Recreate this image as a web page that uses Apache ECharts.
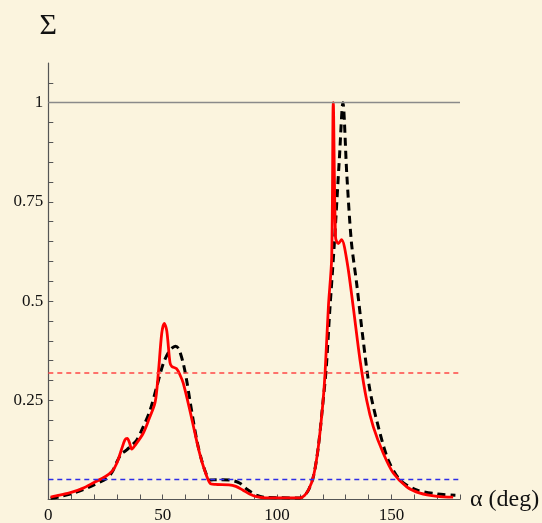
<!DOCTYPE html>
<html>
<head>
<meta charset="utf-8">
<script src="https://cdn.jsdelivr.net/npm/echarts@6/dist/echarts.min.js"></script>
<style>
  html, body { margin: 0; padding: 0; background: #FBF4DE; }
  #chart { width: 542px; height: 523px; }
</style>
</head>
<body>
<div id="chart"></div>
<script>
// Angle (deg) vs. Sigma, two curves plus reference levels
const redCurve = [
  [1, 0.006], [5, 0.011], [10, 0.018], [15, 0.028], [20, 0.043], [25, 0.058],
  [28, 0.072], [30, 0.092], [32, 0.126], [33.5, 0.150], [34.5, 0.154], [35.5, 0.143],
  [36.5, 0.127], [38, 0.137], [41.5, 0.167], [44, 0.202], [46.7, 0.245], [48.1, 0.318],
  [49.6, 0.419], [50.7, 0.444], [51.8, 0.425], [53.2, 0.345], [54, 0.335], [56, 0.330],
  [57.5, 0.315], [59, 0.293], [62, 0.222], [64, 0.170], [66, 0.120], [68, 0.080],
  [70.7, 0.041], [73, 0.038], [79, 0.037], [82, 0.033], [85, 0.024], [88, 0.014],
  [91, 0.007], [95, 0.004], [110, 0.004], [112, 0.010], [114, 0.027], [116, 0.060],
  [118, 0.130], [120, 0.240], [121, 0.318], [122.5, 0.490], [123.9, 0.610], [124.6, 1.0],
  [125.6, 0.660], [126.8, 0.645], [128.2, 0.655], [130.6, 0.600], [133.3, 0.486],
  [136.3, 0.351], [139.2, 0.250], [142.1, 0.183], [146.5, 0.116], [150.9, 0.066],
  [156.7, 0.032], [162.5, 0.016], [170, 0.008], [177, 0.006]
];
const blackCurve = [
  [1, 0.003], [5, 0.007], [11, 0.016], [15, 0.024], [20, 0.037], [25.5, 0.053],
  [28, 0.070], [30, 0.095], [32, 0.115], [34.3, 0.125], [36.5, 0.137], [38.7, 0.150],
  [41.5, 0.183], [44.5, 0.225], [47.4, 0.284], [50.3, 0.343], [53, 0.375], [55.6, 0.386],
  [57, 0.380], [59, 0.343], [60.5, 0.300], [61.9, 0.250], [64.9, 0.150], [67, 0.100],
  [69, 0.065], [70.7, 0.049], [74, 0.050], [79.4, 0.049], [83.8, 0.041], [87, 0.025],
  [91, 0.011], [95, 0.005], [110, 0.004], [112, 0.010], [114, 0.027], [116, 0.060],
  [118, 0.130], [120, 0.240], [121.5, 0.330], [123, 0.470], [125, 0.640], [127.3, 0.863],
  [128.8, 1.0], [130.5, 0.820], [132.5, 0.650], [134.8, 0.545], [137.7, 0.400],
  [140.6, 0.276], [144.3, 0.183], [148.6, 0.100], [153.8, 0.049], [161, 0.024],
  [170, 0.014], [178, 0.011]
];
// horizontal reference levels
const unitLevel = 1;
const redLevel = 0.318;
const blueLevel = 0.046;
// labelled ticks
const xTickLabels = [0, 50, 100, 150];
const yTickLabels = ['0.25', '0.5', '0.75', '1'];

const serif = '"Liberation Serif", "DejaVu Serif", serif';
const chart = echarts.init(document.getElementById('chart'), null, { renderer: 'canvas' });

function hLine(value, color, type, width) {
  return {
    silent: true, symbol: 'none', label: { show: false },
    lineStyle: { color: color, type: type, width: width },
    data: [{ yAxis: value }]
  };
}

chart.setOption({
  backgroundColor: '#FBF4DE',
  animation: false,
  grid: { left: 48.3, right: 82, top: 63, bottom: 23.5, containLabel: false, outerBoundsMode: 'none' },
  xAxis: {
    type: 'value', min: 0, max: 180, interval: 10,
    name: 'α (deg)', nameLocation: 'end', nameGap: 10,
    nameTextStyle: { fontFamily: serif, fontSize: 24, color: '#111', verticalAlign: 'middle' },
    axisLine: { lineStyle: { color: '#555', width: 1.2 } },
    axisTick: { inside: true, length: 5, lineStyle: { color: '#555' } },
    splitLine: { show: false },
    axisLabel: {
      fontFamily: serif, fontSize: 17, color: '#111', margin: 8,
      formatter: v => xTickLabels.includes(Math.round(v)) ? String(Math.round(v)) : ''
    }
  },
  yAxis: {
    type: 'value', min: 0, max: 1.1, interval: 0.05,
    name: 'Σ', nameLocation: 'end', nameGap: 22,
    nameTextStyle: { fontFamily: serif, fontSize: 30, color: '#111', align: 'center' },
    axisLine: { lineStyle: { color: '#555', width: 1.2 } },
    axisTick: { inside: true, length: 5, lineStyle: { color: '#555' } },
    splitLine: { show: false },
    axisLabel: {
      fontFamily: serif, fontSize: 17, color: '#111', margin: 5,
      showMaxLabel: false,
      formatter: v => {
        const s = String(Math.round(v * 100) / 100);
        return yTickLabels.includes(s) ? s : '';
      }
    }
  },
  series: [
    {
      type: 'line', data: [], silent: true,
      markLine: hLine(unitLevel, '#8a8a8a', 'solid', 1.3)
    },
    {
      type: 'line', data: [], silent: true,
      markLine: hLine(redLevel, '#FF4545', [5, 4], 1.5)
    },
    {
      type: 'line', data: [], silent: true,
      markLine: hLine(blueLevel, '#2E2EE6', [5, 4], 1.4)
    },
    {
      type: 'line', data: blackCurve, symbol: 'none', smooth: 0.3,
      lineStyle: { color: '#000', width: 3, type: [8, 5] }, z: 3
    },
    {
      type: 'line', data: redCurve, symbol: 'none', smooth: 0.3,
      lineStyle: { color: '#FF0000', width: 2.8 }, z: 4
    }
  ]
});
</script>
</body>
</html>
